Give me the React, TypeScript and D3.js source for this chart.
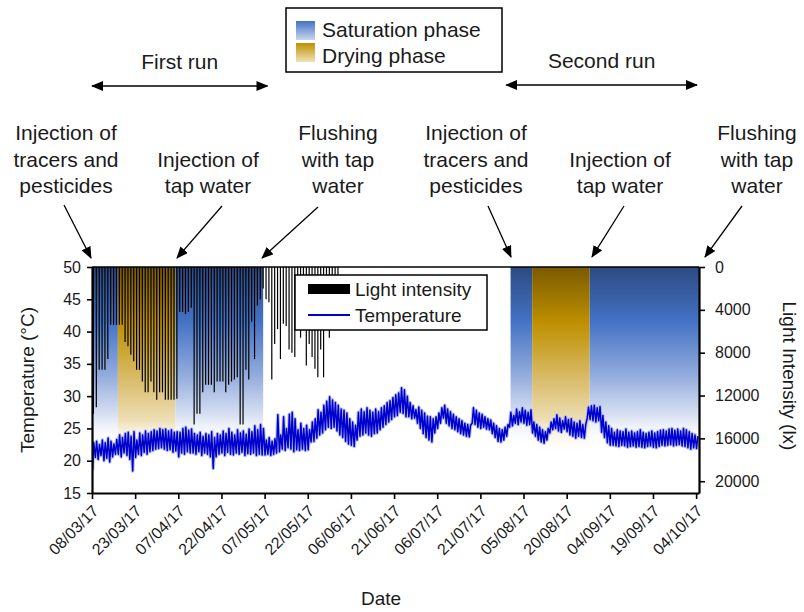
import React, { useEffect, useRef } from "react";
import * as d3 from "d3";

// x axis tick labels (every 15 days)
const tickDates = [
  "2017-03-08", "2017-03-23", "2017-04-07", "2017-04-22", "2017-05-07",
  "2017-05-22", "2017-06-06", "2017-06-21", "2017-07-06", "2017-07-21",
  "2017-08-05", "2017-08-20", "2017-09-04", "2017-09-19", "2017-10-04",
];
const tempTicks = [15, 20, 25, 30, 35, 40, 45, 50];
const lightTicks = [0, 4000, 8000, 12000, 16000, 20000];

// phases of the experiment
const phaseStart = ["2017-03-08", "2017-03-17", "2017-04-06", "2017-07-31T12:00", "2017-08-08", "2017-08-28"];
const phaseEnd = ["2017-03-17", "2017-04-06", "2017-05-06T12:00", "2017-08-08", "2017-08-28", "2017-10-05"];
const phaseKind = ["sat", "dry", "sat", "sat", "dry", "sat"];

// daily max light intensity (lx), from 08/03/17
const lightMax = [
  13700, 13100, 9600, 9600, 9600, 8600, 5400, 5400, 5400,
  5400, 5400, 7000, 7400, 8200, 8800, 9600, 9600, 10700, 11700,
  11700, 10700, 11700, 12400, 11700, 11700, 12400, 12400, 12400, 12400,
  12300, 4200, 4200, 4400, 4200, 3800, 14700, 13700, 13700, 11700,
  11000, 11000, 11000, 11700, 10700, 10700, 10700, 11700, 11000, 10700,
  10500, 10300, 14700, 14700, 9600, 10500, 5100, 8600, 3600, 3000, 2000,
  3000, 3300, 10500, 7200, 5800, 8600, 5300, 5500, 7700, 8000,
  8400, 4000, 6600, 3000, 9200, 7200, 8400, 9500, 10300, 7700,
  10300, 4000, 6600, 3500, 2500, 1500,
];

// daily max / min temperature (°C), from 08/03/17
const tempMax = [
  22.8, 23.0, 22.5, 23.2, 22.8, 23.5, 23.0, 22.6, 23.3,
  24.0, 23.6, 24.2, 24.4, 23.8, 24.5, 23.2, 24.3, 24.0, 24.6, 24.2, 24.5,
  24.8, 24.6, 25.0, 24.8, 24.9, 24.6, 24.8, 24.4, 24.5,
  24.4, 25.0, 25.2, 24.7, 24.9,
  24.2, 24.0, 24.4, 23.8, 24.2, 24.0, 24.5, 23.6, 24.2,
  24.0, 24.6, 24.2, 25.0, 24.4, 24.0, 24.8, 24.3, 24.6, 24.1, 24.9,
  24.5, 25.4, 24.8, 25.6, 25.0,
  23.2, 23.6, 23.0, 23.4,
  27.1,
  24.0, 26.8, 25.0, 27.2, 27.5, 26.5,
  24.8, 25.8, 25.0, 25.5, 24.8,
  26.0, 26.5, 27.9, 27.5, 28.6, 29.2, 29.9, 29.4,
  29.0, 28.6, 28.0, 27.8, 27.4, 26.5, 26.0, 25.5,
  27.5, 28.0, 27.6, 28.2, 27.8, 27.5, 28.0, 27.6,
  28.2, 28.5, 29.0, 29.3, 29.8, 30.2, 30.5, 31.3, 31.0,
  30.0, 29.0, 28.5, 27.9,
  28.3, 27.8, 27.4, 26.9, 26.8, 26.5,
  26.8, 27.4, 28.2, 28.6,
  28.0, 27.6, 27.2, 26.8, 26.5, 26.2, 25.8, 25.6, 25.5,
  28.2, 27.8, 27.4, 27.2, 26.8, 26.5, 26.3,
  25.8, 25.4, 25.0, 24.8, 25.2, 25.6,
  27.5, 27.0, 28.0, 27.6, 28.2, 27.8, 27.5, 27.9,
  26.0, 25.6, 25.2, 24.8, 24.5, 25.0,
  26.0, 26.5, 27.1, 26.6, 26.2, 26.8, 26.4,
  26.5, 26.0, 25.8, 26.2, 25.6, 25.5,
  28.3, 28.5, 28.6, 28.2, 28.4,
  27.0, 26.0, 25.4, 25.0,
  24.4, 24.8, 24.6, 24.5, 24.9, 24.4, 24.6, 24.3, 24.5, 24.8,
  24.4, 24.2, 24.4, 24.6, 24.3, 24.5, 24.7, 24.8, 24.6, 24.9,
  25.0, 24.7, 24.9, 24.6, 25.0, 24.8, 24.5, 24.2, 24.0, 23.8,
];
const tempMin = [
  18.5, 20.5, 20.2, 20.8, 20.0, 20.4, 19.8, 20.6, 21.0,
  21.0, 20.6, 21.2, 20.8, 20.2, 18.4, 20.5, 21.0, 20.8, 21.3, 21.0, 21.4,
  21.6, 21.8, 21.9, 22.0, 21.8, 21.6, 21.7, 21.3, 21.5,
  20.6, 21.2, 21.0, 21.4, 21.2,
  21.2, 21.0, 21.4, 20.8, 21.2, 21.0, 20.6, 18.8, 20.6,
  21.0, 21.2, 20.8, 21.3, 21.0, 20.9, 21.2, 21.0, 21.3, 20.8, 21.1,
  21.0, 21.2, 20.8, 21.0, 20.9,
  20.9, 21.0, 20.8, 21.0,
  21.2,
  21.4, 21.8, 21.6, 22.0, 21.8, 21.4,
  21.7, 21.6, 21.8, 21.6, 21.7,
  22.9, 23.0, 23.5, 24.0, 24.3, 24.8, 25.2, 25.0,
  25.2, 24.6, 24.0, 23.6, 23.0, 22.6, 22.4, 22.2,
  23.2, 23.8, 24.0, 24.3, 24.0, 23.8, 24.2, 24.3,
  24.8, 25.2, 25.6, 26.0, 26.4, 26.8, 27.0, 27.5, 27.3,
  26.8, 26.8, 26.5, 26.6,
  25.8, 25.0, 24.2, 23.6, 23.2, 22.9,
  24.3, 25.0, 25.8, 26.6,
  25.8, 25.4, 25.0, 24.8, 24.5, 24.2, 24.0, 23.8, 23.7,
  25.8, 25.6, 25.2, 25.0, 25.2, 24.9, 24.8,
  24.2, 23.6, 23.0, 22.9, 23.2, 23.8,
  25.2, 25.4, 25.8, 25.6, 26.0, 25.8, 25.5, 25.6,
  24.3, 23.8, 23.2, 22.9, 22.7, 23.2,
  24.3, 24.8, 25.0, 24.6, 24.4, 24.9, 24.5,
  24.0, 23.8, 23.5, 23.8, 23.6, 23.5,
  26.6, 26.4, 26.2, 26.0, 26.2,
  24.4, 23.6, 22.8, 22.4,
  22.4, 22.3, 22.2, 22.4, 22.3, 22.1, 22.2, 22.3, 22.1, 22.2,
  22.1, 22.0, 22.2, 22.3, 22.1, 22.0, 22.2, 22.4, 22.3, 22.4,
  22.5, 22.3, 22.4, 22.5, 22.3, 22.2, 22.0, 21.8, 22.0, 21.9,
];

// annotations above the plot
const runLabels = ["First run", "Second run"];
const runFrom = ["2017-03-08", "2017-07-30"];
const runTo = ["2017-05-08", "2017-10-05"];
const eventLabels = [
  ["Injection of", "tracers and", "pesticides"],
  ["Injection of", "tap water"],
  ["Flushing", "with tap", "water"],
  ["Injection of", "tracers and", "pesticides"],
  ["Injection of", "tap water"],
  ["Flushing", "with tap", "water"],
];

const FONT = "'Liberation Sans', Arial, sans-serif";
const day = 24 * 3600 * 1000;
const parse = (s: string) => new Date(s.length > 10 ? s + "Z" : s + "T00:00:00Z");

function Chart() {
  const ref = useRef<SVGSVGElement>(null);

  useEffect(() => {
    const svg = d3.select(ref.current);
    svg.selectAll("*").remove();

    const margin = { top: 267, left: 92, right: 105, bottom: 119 };
    const width = 804, height = 612;
    const x0 = margin.left, x1 = width - margin.right;
    const y0 = margin.top, y1 = height - margin.bottom;

    const t0 = parse("2017-03-08");
    const x = d3.scaleUtc().domain([t0, parse("2017-10-05")]).range([x0, x1]);
    const yT = d3.scaleLinear().domain([15, 50]).range([y1, y0]);
    const yL = d3.scaleLinear().domain([0, 21100]).range([y0, y1]);

    const defs = svg.append("defs");
    const grad = (id: string, stops: [number, string, number][]) => {
      const g = defs.append("linearGradient").attr("id", id)
        .attr("x1", 0).attr("y1", 0).attr("x2", 0).attr("y2", 1);
      stops.forEach(([o, c, a]) => g.append("stop").attr("offset", o).attr("stop-color", c).attr("stop-opacity", a));
    };
    grad("sat", [[0, "#2C4A82", 1], [0.3, "#4472C4", 1], [0.6, "#93ACDD", 1], [0.82, "#D8E1F3", 1], [1, "#FFFFFF", 0]]);
    grad("dry", [[0, "#7A5A00", 1], [0.3, "#BF9000", 1], [0.6, "#D9BC6A", 1], [0.82, "#EEDFB6", 1], [1, "#FFFFFF", 0]]);
    grad("satKey", [[0, "#4472C4", 1], [1, "#C9D6F0", 1]]);
    grad("dryKey", [[0, "#BF9000", 1], [1, "#F0E2B8", 1]]);

    defs.append("clipPath").attr("id", "plot")
      .append("rect").attr("x", x0).attr("y", y0).attr("width", x1 - x0).attr("height", y1 - y0);

    const plot = svg.append("g").attr("clip-path", "url(#plot)");

    // phase shading
    plot.selectAll(".phase")
      .data(phaseKind)
      .enter()
      .append("rect")
      .attr("x", (d, i) => x(parse(phaseStart[i])))
      .attr("width", (d, i) => x(parse(phaseEnd[i])) - x(parse(phaseStart[i])))
      .attr("y", yT(50))
      .attr("height", (d) => yT(d === "sat" ? 22 : 21) - yT(50))
      .attr("fill", (d) => `url(#${d})`);

    // light intensity bars (reversed axis, hanging from the top)
    plot.selectAll(".light")
      .data(lightMax)
      .enter()
      .append("line")
      .attr("x1", (d, i) => x(new Date(+t0 + (i + 0.5) * day)))
      .attr("x2", (d, i) => x(new Date(+t0 + (i + 0.5) * day)))
      .attr("y1", yL(0))
      .attr("y2", (d) => yL(d))
      .attr("stroke", "#000")
      .attr("stroke-width", 1.2);

    // temperature: daily min / max
    const pts: [Date, number][] = [];
    tempMax.forEach((v, i) => {
      pts.push([new Date(+t0 + (i + 0.15) * day), tempMin[i]]);
      pts.push([new Date(+t0 + (i + 0.6) * day), v]);
    });
    const line = d3.line<[Date, number]>().x((d) => x(d[0])).y((d) => yT(d[1]));
    plot.append("path").attr("d", line(pts)).attr("fill", "none")
      .attr("stroke", "#A9B4F2").attr("stroke-width", 3.6).attr("stroke-linejoin", "round").attr("opacity", 0.85);
    plot.append("path").attr("d", line(pts)).attr("fill", "none")
      .attr("stroke", "#0000CC").attr("stroke-width", 1.5).attr("stroke-linejoin", "round");

    // axes
    const styleAxis = (g: any) => {
      g.selectAll(".domain").attr("stroke", "#000").attr("stroke-width", 2.2);
      g.selectAll(".tick line").attr("stroke", "#000").attr("stroke-width", 1.6);
      g.selectAll("text").attr("font-family", FONT).attr("font-size", 16).attr("fill", "#1a1a1a");
    };

    const xAxis = svg.append("g").attr("transform", `translate(0,${y1})`)
      .call(d3.axisBottom(x).tickValues(tickDates.map(parse)).tickFormat(d3.utcFormat("%d/%m/%y") as any).tickSize(6).tickSizeOuter(0));
    styleAxis(xAxis);
    xAxis.selectAll("text")
      .attr("x", 0).attr("y", 0).attr("dy", "0.35em")
      .attr("transform", "translate(3,15) rotate(-45)")
      .style("text-anchor", "end");

    const yAxisL = svg.append("g").attr("transform", `translate(${x0},0)`)
      .call(d3.axisLeft(yT).tickValues(tempTicks).tickSize(5).tickSizeOuter(0).tickPadding(6));
    styleAxis(yAxisL);

    const yAxisR = svg.append("g").attr("transform", `translate(${x1},0)`)
      .call(d3.axisRight(yL).tickValues(lightTicks).tickFormat(d3.format("d")).tickSize(6).tickSizeOuter(0).tickPadding(10));
    styleAxis(yAxisR);

    // top border of the plot
    svg.append("line").attr("x1", x0).attr("x2", x1).attr("y1", y0).attr("y2", y0)
      .attr("stroke", "#000").attr("stroke-width", 1.5);

    // axis titles
    svg.append("text").attr("x", 381).attr("y", 605).attr("text-anchor", "middle")
      .attr("font-family", FONT).attr("font-size", 19).attr("fill", "#1a1a1a").text("Date");
    svg.append("text").attr("transform", `translate(34,380) rotate(-90)`).attr("text-anchor", "middle")
      .attr("font-family", FONT).attr("font-size", 19).attr("fill", "#1a1a1a").text("Temperature (°C)");
    svg.append("text").attr("transform", `translate(783,376) rotate(90)`).attr("text-anchor", "middle")
      .attr("font-family", FONT).attr("font-size", 19).attr("fill", "#1a1a1a").text("Light Intensity (lx)");

    // legend inside the plot
    const lg = svg.append("g");
    lg.append("rect").attr("x", 295).attr("y", 275).attr("width", 192).attr("height", 55)
      .attr("fill", "#fff").attr("stroke", "#000").attr("stroke-width", 1.5);
    lg.append("rect").attr("x", 308).attr("y", 284).attr("width", 42).attr("height", 10).attr("fill", "#000");
    lg.append("line").attr("x1", 308).attr("x2", 350).attr("y1", 315).attr("y2", 315)
      .attr("stroke", "#0000CC").attr("stroke-width", 1.8);
    lg.append("text").attr("x", 355).attr("y", 296).attr("font-family", FONT).attr("font-size", 19)
      .attr("fill", "#1a1a1a").text("Light intensity");
    lg.append("text").attr("x", 355).attr("y", 322).attr("font-family", FONT).attr("font-size", 19)
      .attr("fill", "#1a1a1a").text("Temperature");

    // phase legend on top
    const pk = svg.append("g");
    pk.append("rect").attr("x", 286).attr("y", 8).attr("width", 216).attr("height", 64)
      .attr("fill", "#fff").attr("stroke", "#000").attr("stroke-width", 1.5);
    pk.append("rect").attr("x", 296).attr("y", 21).attr("width", 19).attr("height", 19).attr("fill", "url(#satKey)");
    pk.append("rect").attr("x", 296).attr("y", 43).attr("width", 19).attr("height", 19).attr("fill", "url(#dryKey)");
    pk.append("text").attr("x", 322).attr("y", 37).attr("font-family", FONT).attr("font-size", 21)
      .attr("fill", "#1a1a1a").text("Saturation phase");
    pk.append("text").attr("x", 322).attr("y", 63).attr("font-family", FONT).attr("font-size", 21)
      .attr("fill", "#1a1a1a").text("Drying phase");

    // arrow heads
    defs.append("marker").attr("id", "arrow").attr("viewBox", "0 0 12 10").attr("refX", 11).attr("refY", 5)
      .attr("markerWidth", 12).attr("markerHeight", 10).attr("markerUnits", "userSpaceOnUse")
      .attr("orient", "auto-start-reverse")
      .append("path").attr("d", "M0,0 L12,5 L0,10 Z").attr("fill", "#000");

    // run arrows
    const runY = [86, 85];
    runLabels.forEach((lab, i) => {
      const a = x(parse(runFrom[i])), b = Math.min(x(parse(runTo[i])), 697);
      svg.append("line").attr("x1", a).attr("x2", b).attr("y1", runY[i]).attr("y2", runY[i])
        .attr("stroke", "#000").attr("stroke-width", 1.3)
        .attr("marker-start", "url(#arrow)").attr("marker-end", "url(#arrow)");
      svg.append("text").attr("x", (a + b) / 2).attr("y", runY[i] - 17)
        .attr("text-anchor", "middle").attr("font-family", FONT).attr("font-size", 21)
        .attr("fill", "#1a1a1a").text(lab);
    });

    // event annotations
    const evX = [66, 208, 338, 476, 620, 757];
    const evFrom: [number, number][] = [[64, 205], [222, 206], [318, 207], [488, 206], [624, 206], [742, 206]];
    const evTo: [number, number][] = [[91, 258], [177, 258], [262, 258], [511, 257], [592, 257], [705, 257]];
    eventLabels.forEach((lines, i) => {
      const first = 193 - (lines.length - 1) * 26.5;
      lines.forEach((s, j) => {
        svg.append("text").attr("x", evX[i]).attr("y", first + j * 26.5).attr("text-anchor", "middle")
          .attr("font-family", FONT).attr("font-size", 21).attr("fill", "#1a1a1a").text(s);
      });
      svg.append("line").attr("x1", evFrom[i][0]).attr("y1", evFrom[i][1])
        .attr("x2", evTo[i][0]).attr("y2", evTo[i][1])
        .attr("stroke", "#000").attr("stroke-width", 1.3).attr("marker-end", "url(#arrow)");
    });
  }, []);

  return <svg ref={ref} width={804} height={612} style={{ position: "absolute", left: 0, top: 0, background: "#fff" }} />;
}

export default function App() {
  return <Chart />;
}
